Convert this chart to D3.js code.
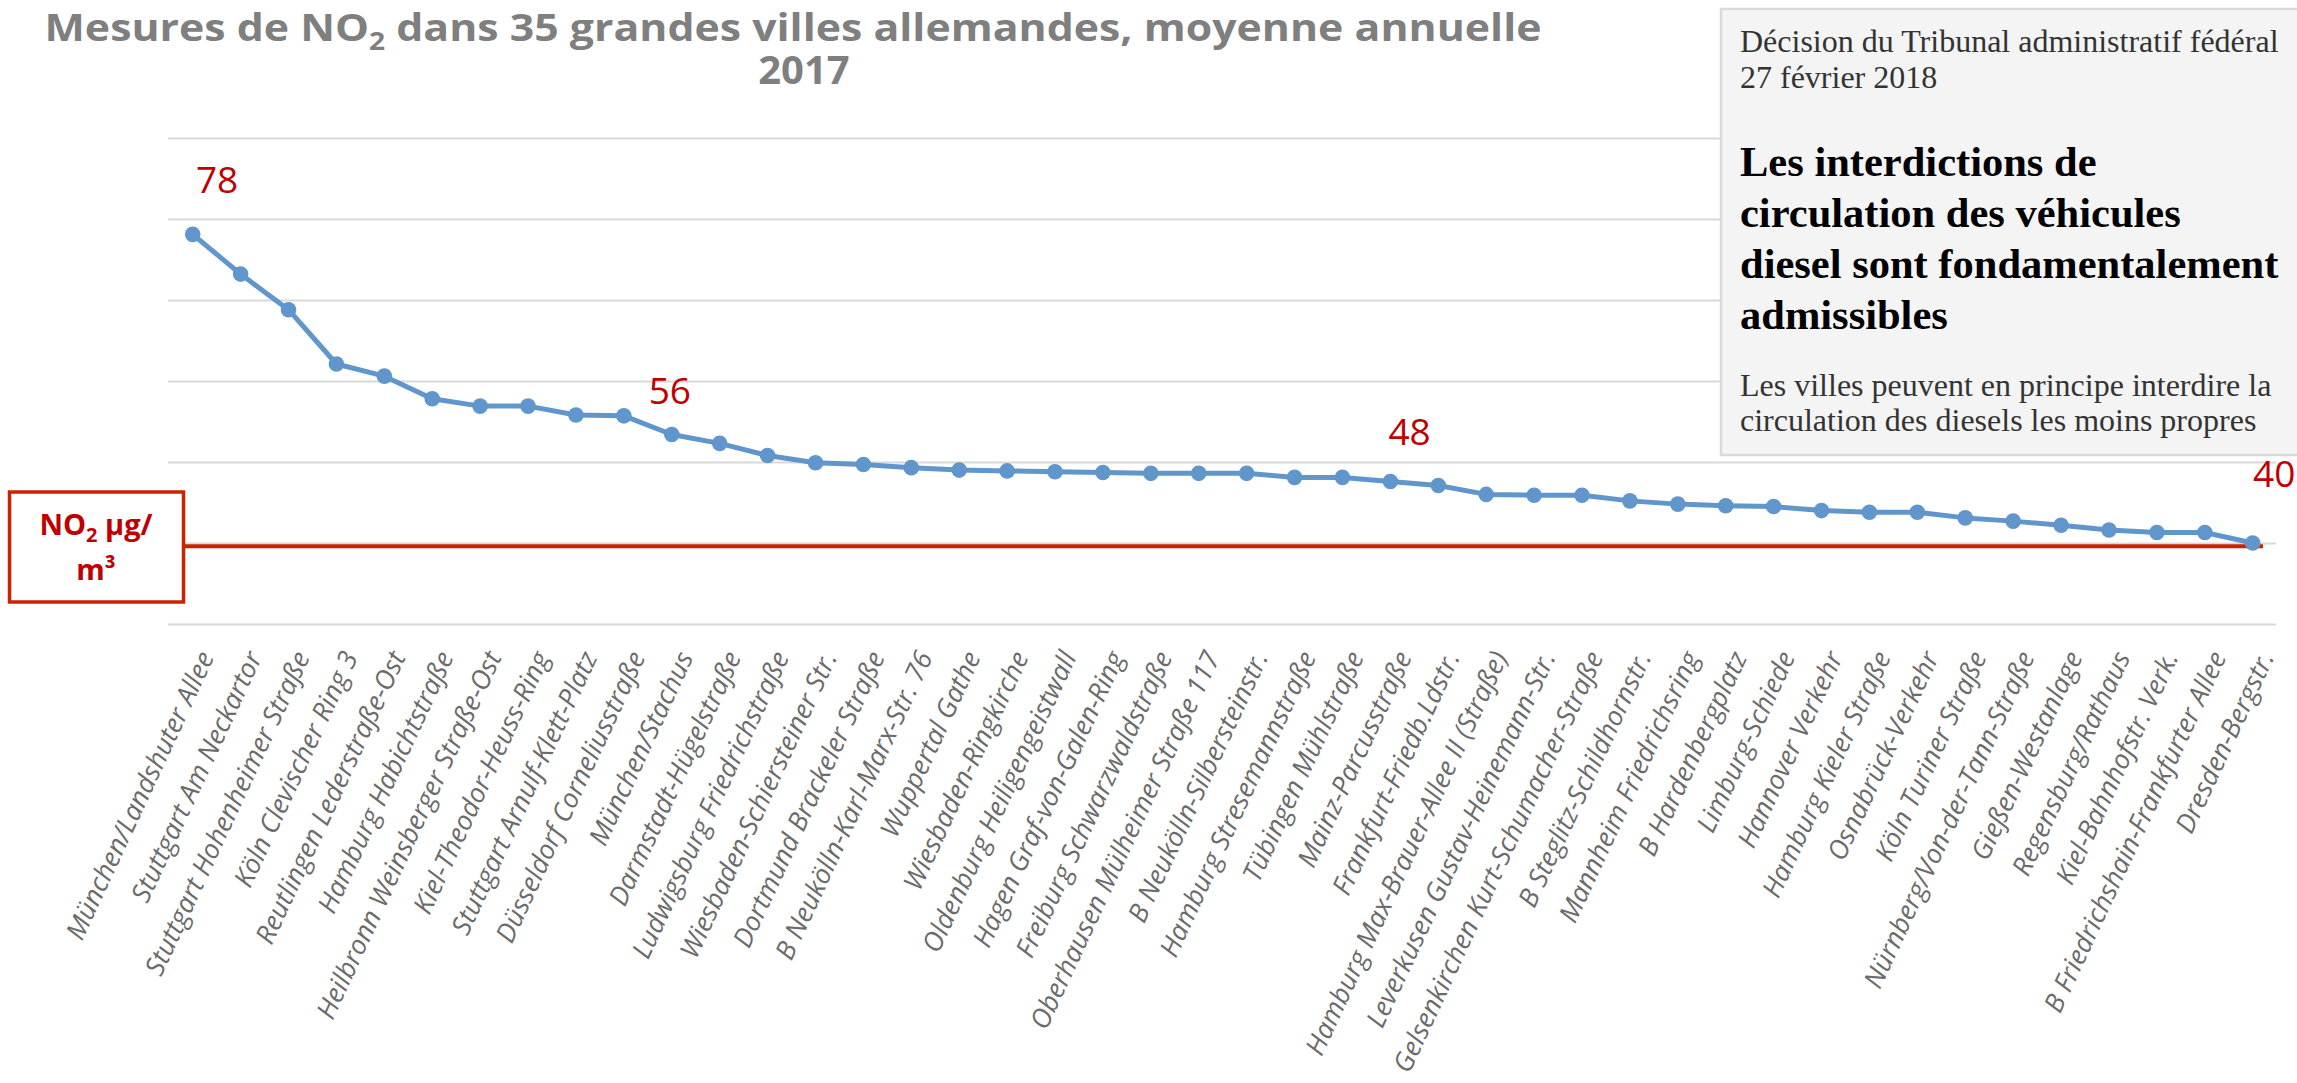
<!DOCTYPE html>
<html>
<head>
<meta charset="utf-8">
<script src="https://cdn.jsdelivr.net/npm/d3@7"></script>
<style>
  html, body { margin: 0; padding: 0; background: #ffffff; }
  svg { display: block; }
</style>
</head>
<body>
<svg id="chart" width="2297" height="1083"></svg>
<script>
// ---------- DATA ----------
const categories = [
  "München/Landshuter Allee",
  "Stuttgart Am Neckartor",
  "Stuttgart Hohenheimer Straße",
  "Köln Clevischer Ring 3",
  "Reutlingen Lederstraße-Ost",
  "Hamburg Habichtstraße",
  "Heilbronn Weinsberger Straße-Ost",
  "Kiel-Theodor-Heuss-Ring",
  "Stuttgart Arnulf-Klett-Platz",
  "Düsseldorf Corneliusstraße",
  "München/Stachus",
  "Darmstadt-Hügelstraße",
  "Ludwigsburg Friedrichstraße",
  "Wiesbaden-Schiersteiner Str.",
  "Dortmund Brackeler Straße",
  "B Neukölln-Karl-Marx-Str. 76",
  "Wuppertal Gathe",
  "Wiesbaden-Ringkirche",
  "Oldenburg Heiligengeistwall",
  "Hagen Graf-von-Galen-Ring",
  "Freiburg Schwarzwaldstraße",
  "Oberhausen Mülheimer Straße 117",
  "B Neukölln-Silbersteinstr.",
  "Hamburg Stresemannstraße",
  "Tübingen Mühlstraße",
  "Mainz-Parcusstraße",
  "Frankfurt-Friedb.Ldstr.",
  "Hamburg Max-Brauer-Allee II (Straße)",
  "Leverkusen Gustav-Heinemann-Str.",
  "Gelsenkirchen Kurt-Schumacher-Straße",
  "B Steglitz-Schildhornstr.",
  "Mannheim Friedrichsring",
  "B Hardenbergplatz",
  "Limburg-Schiede",
  "Hannover Verkehr",
  "Hamburg Kieler Straße",
  "Osnabrück-Verkehr",
  "Köln Turiner Straße",
  "Nürnberg/Von-der-Tann-Straße",
  "Gießen-Westanlage",
  "Regensburg/Rathaus",
  "Kiel-Bahnhofstr. Verk.",
  "B Friedrichshain-Frankfurter Allee",
  "Dresden-Bergstr."
];
const no2Values = [
  78.1, 73.2, 68.8, 62.1, 60.6, 57.8, 56.9, 56.9, 55.8, 55.7,
  53.4, 52.3, 50.8, 49.9, 49.7, 49.3, 49.0, 48.9, 48.8, 48.7,
  48.6, 48.6, 48.6, 48.1, 48.1, 47.6, 47.1, 46.0, 45.9, 45.9,
  45.2, 44.8, 44.6, 44.5, 44.0, 43.8, 43.8, 43.1, 42.7, 42.2,
  41.6, 41.3, 41.3, 40.0
];
const gridTicks = [30, 40, 50, 60, 70, 80, 90];
const limitValue = 39.6;
// value annotations (text, category position, value position)
const annoTexts = ["78", "56", "48", "40"];
const annoIndex = [0.51, 9.96, 25.4, 43.45];
const annoValue = [83.2, 57.2, 52.1, 46.9];

const titleLine1 = ["Mesures de NO", "2", " dans 35 grandes villes allemandes, moyenne annuelle"];
const titleLine2 = "2017";
const boxHeader = ["Décision du Tribunal administratif fédéral", "27 février 2018"];
const boxHeadline = ["Les interdictions de", "circulation des véhicules", "diesel sont fondamentalement", "admissibles"];
const boxSub = ["Les villes peuvent en principe interdire la", "circulation des diesels les moins propres"];
const unitLabel = [["NO", "2", " µg/"], ["m³"]];

// ---------- LAYOUT ----------
const svg = d3.select("#chart");
const plotLeft = 168, plotRight = 2276;
const firstX = 192.7, lastX = 2252.7;
const yTop = 138, yBottom = 624;

const x = d3.scalePoint().domain(categories).range([firstX, lastX]);
const xIdx = d3.scaleLinear().domain([0, categories.length - 1]).range([firstX, lastX]);
const y = d3.scaleLinear().domain([30, 90]).range([yBottom, yTop]);

// gridlines
const grid = svg.append("g")
  .attr("transform", `translate(${plotLeft},0)`)
  .call(d3.axisLeft(y).tickValues(gridTicks).tickSize(-(plotRight - plotLeft)).tickFormat(""));
grid.select(".domain").remove();
grid.selectAll(".tick line").attr("stroke", "#d9d9d9").attr("stroke-width", 2);

// x axis labels
const xAxis = svg.append("g")
  .attr("transform", `translate(0,${yBottom})`)
  .call(d3.axisBottom(x).tickSize(0));
xAxis.select(".domain").remove();
xAxis.selectAll(".tick text")
  .attr("x", 0).attr("y", 0).attr("dy", "0.35em")
  .attr("transform", "translate(13,29) rotate(-65)")
  .style("text-anchor", "end")
  .style("font-family", "'Open Sans', sans-serif")
  .style("font-style", "italic")
  .style("font-size", "26.7px")
  .attr("fill", "#6b6b6b");

// title
const title = svg.append("text")
  .attr("x", 793).attr("y", 41)
  .attr("text-anchor", "middle")
  .attr("textLength", 1497)
  .attr("lengthAdjust", "spacingAndGlyphs")
  .style("font-family", "'Open Sans', sans-serif")
  .style("font-weight", "bold")
  .style("font-size", "38px")
  .attr("fill", "#7f7f7f");
title.append("tspan").text(titleLine1[0]);
title.append("tspan").text(titleLine1[1]).attr("dy", 9).style("font-size", "25px");
title.append("tspan").text(titleLine1[2]).attr("dy", -9);
svg.append("text")
  .attr("x", 804).attr("y", 84)
  .attr("text-anchor", "middle")
  .style("font-family", "'Open Sans', sans-serif")
  .style("font-weight", "bold")
  .style("font-size", "40px")
  .attr("fill", "#7f7f7f")
  .text(titleLine2);

// annotation box (drawn over the gridlines)
svg.append("rect")
  .attr("x", 1721).attr("y", 9).attr("width", 620).attr("height", 446)
  .attr("fill", "#f4f4f4").attr("stroke", "#d9d9d9").attr("stroke-width", 2.5);
const serif = "'Liberation Serif', 'Times New Roman', serif";
boxHeader.forEach((t, i) => {
  svg.append("text").attr("x", 1740).attr("y", 52 + i * 35.5)
    .style("font-family", serif).style("font-size", "32px")
    .attr("fill", "#333333").text(t);
});
boxHeadline.forEach((t, i) => {
  svg.append("text").attr("x", 1740).attr("y", 176 + i * 51)
    .style("font-family", serif).style("font-size", "42.5px").style("font-weight", "bold")
    .attr("fill", "#000000").text(t);
});
boxSub.forEach((t, i) => {
  svg.append("text").attr("x", 1740).attr("y", 396 + i * 35)
    .style("font-family", serif).style("font-size", "32px")
    .attr("fill", "#333333").text(t);
});

// limit line
svg.append("line")
  .attr("x1", 185).attr("x2", 2263)
  .attr("y1", y(limitValue)).attr("y2", y(limitValue))
  .attr("stroke", "#cc2200").attr("stroke-width", 4);

// unit label box
svg.append("rect")
  .attr("x", 9.5).attr("y", 492).attr("width", 174).attr("height", 110)
  .attr("fill", "#ffffff").attr("stroke", "#cc2200").attr("stroke-width", 3.5);
const u1 = svg.append("text").attr("x", 96).attr("y", 535).attr("text-anchor", "middle")
  .style("font-family", "'Open Sans', sans-serif").style("font-weight", "bold").style("font-size", "29px")
  .attr("fill", "#c00000");
u1.append("tspan").text(unitLabel[0][0]);
u1.append("tspan").text(unitLabel[0][1]).attr("dy", 7).style("font-size", "20px");
u1.append("tspan").text(unitLabel[0][2]).attr("dy", -7);
svg.append("text").attr("x", 96).attr("y", 580).attr("text-anchor", "middle")
  .style("font-family", "'Open Sans', sans-serif").style("font-weight", "bold").style("font-size", "29px")
  .attr("fill", "#c00000").text(unitLabel[1][0]);

// data line
const line = d3.line().x((d, i) => x(categories[i])).y(d => y(d));
svg.append("path")
  .datum(no2Values)
  .attr("d", line)
  .attr("fill", "none")
  .attr("stroke", "#6096cc")
  .attr("stroke-width", 5)
  .attr("stroke-linejoin", "round");
svg.append("g").selectAll("circle")
  .data(no2Values)
  .join("circle")
  .attr("cx", (d, i) => x(categories[i]))
  .attr("cy", d => y(d))
  .attr("r", 7.8)
  .attr("fill", "#6096cc");

// value annotations
svg.append("g").selectAll("text")
  .data(annoTexts)
  .join("text")
  .attr("x", (d, i) => xIdx(annoIndex[i]))
  .attr("y", (d, i) => y(annoValue[i]))
  .attr("text-anchor", "middle")
  .style("font-family", "'Open Sans', sans-serif")
  .style("font-size", "37px")
  .attr("fill", "#c00000")
  .text(d => d);
</script>
</body>
</html>
